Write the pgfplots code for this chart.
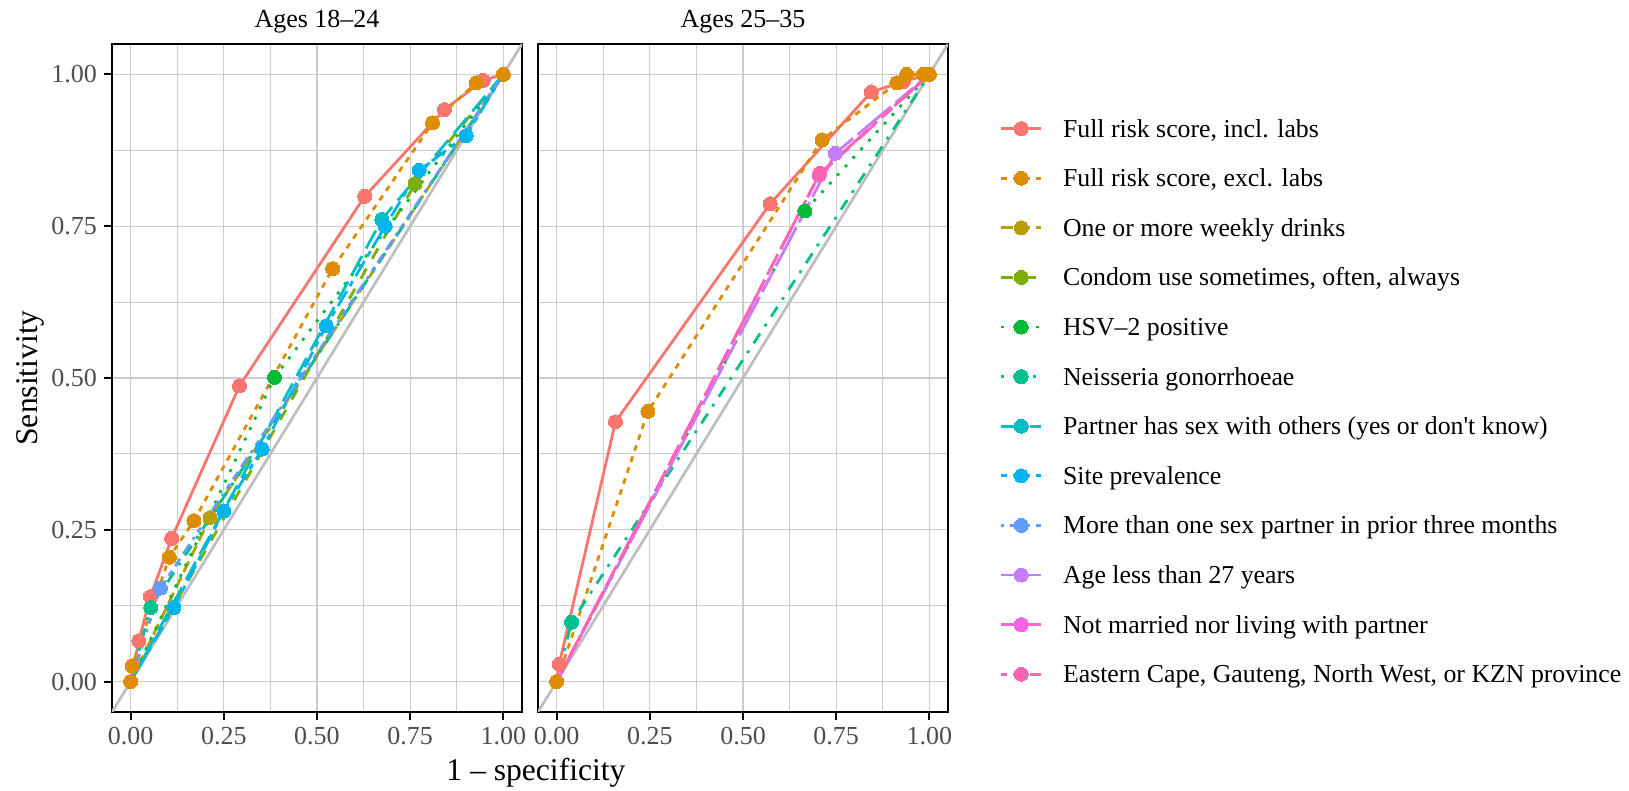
\documentclass[border=0pt]{standalone}
\usepackage{pgfplots}
\usepackage{pgfplotstable}
\pgfplotsset{compat=1.18}
\usepackage{fontspec}
\setmainfont{Liberation Serif}

\definecolor{c1}{HTML}{F8766D}
\definecolor{c2}{HTML}{DE8C00}
\definecolor{c3}{HTML}{B79F00}
\definecolor{c4}{HTML}{7CAE00}
\definecolor{c5}{HTML}{00BA38}
\definecolor{c6}{HTML}{00C08B}
\definecolor{c7}{HTML}{00BFC4}
\definecolor{c8}{HTML}{00B4F0}
\definecolor{c9}{HTML}{619CFF}
\definecolor{c10}{HTML}{C77CFF}
\definecolor{c11}{HTML}{F564E3}
\definecolor{c12}{HTML}{FF64B0}
\definecolor{gridc}{HTML}{CCCCCC}
\definecolor{tickc}{HTML}{4D4D4D}
\definecolor{diagc}{HTML}{BEBEBE}

% ---------- data: Ages 18-24 ----------
\pgfplotstableread{
x y
0 0
0.022 0.067
0.053 0.140
0.110 0.236
0.292 0.487
0.628 0.799
0.842 0.942
0.946 0.990
1 1
}\tAa
\pgfplotstableread{
x y
0 0
0.004 0.026
0.104 0.205
0.170 0.265
0.542 0.680
0.810 0.920
0.927 0.986
1 1
}\tAb
\pgfplotstableread{
x y
0 0
0.213 0.270
1 1
}\tAc
\pgfplotstableread{
x y
0 0
0.763 0.820
1 1
}\tAd
\pgfplotstableread{
x y
0 0
0.386 0.501
1 1
}\tAe
\pgfplotstableread{
x y
0 0
0.054 0.122
1 1
}\tAf
\pgfplotstableread{
x y
0 0
0.674 0.761
1 1
}\tAg
\pgfplotstableread{
x y
0 0
0.116 0.122
0.250 0.281
0.353 0.383
0.525 0.586
0.683 0.750
0.774 0.842
0.900 0.899
1 1
}\tAh
\pgfplotstableread{
x y
0 0
0.080 0.154
1 1
}\tAi
% ---------- data: Ages 25-35 ----------
\pgfplotstableread{
x y
0 0
0.007 0.029
0.158 0.428
0.573 0.787
0.844 0.971
0.930 0.988
1 1
}\tBa
\pgfplotstableread{
x y
0 0
0.245 0.445
0.712 0.892
0.913 0.986
0.939 1.000
0.984 1.000
1 1
}\tBb
\pgfplotstableread{
x y
0 0
0.666 0.775
1 1
}\tBe
\pgfplotstableread{
x y
0 0
0.040 0.098
1 1
}\tBf
\pgfplotstableread{
x y
0 0
0.748 0.870
1 1
}\tBj
\pgfplotstableread{
x y
0 0
0.704 0.834
1 1
}\tBk
\pgfplotstableread{
x y
0 0
0.706 0.837
1 1
}\tBl

\tikzset{
  base/.style={line width=1.4pt, mark=*, mark size=3.5pt, mark options={solid, line width=0pt}},
  s1/.style={base, color=c1, solid},
  s2/.style={base, color=c2, dash pattern=on 2.9pt off 2.9pt},
  s3/.style={base, color=c3, dash pattern=on 5.8pt off 2.9pt},
  s4/.style={base, color=c4, dash pattern=on 5.8pt off 5.8pt},
  s5/.style={base, color=c5, dash pattern=on 1.45pt off 4.35pt},
  s6/.style={base, color=c6, dash pattern=on 1.45pt off 4.35pt on 5.8pt off 4.35pt},
  s7/.style={base, color=c7, dash pattern=on 10.15pt off 4.35pt},
  s8/.style={base, color=c8, dash pattern=on 2.9pt off 2.9pt on 8.7pt off 2.9pt},
  s9/.style={base, color=c9, dash pattern=on 1.45pt off 2.9pt on 2.9pt off 2.9pt on 4.35pt off 2.9pt on 5.8pt off 2.9pt},
  s10/.style={base, color=c10, dash pattern=on 21.75pt off 2.9pt on 11.6pt off 2.9pt},
  s11/.style={base, color=c11, dash pattern=on 21.75pt off 5.8pt on 5.8pt off 5.8pt on 11.6pt off 5.8pt on 5.8pt off 5.8pt},
  s12/.style={base, color=c12, dash pattern=on 2.9pt off 2.9pt on 5.8pt off 2.9pt on 11.6pt off 2.9pt on 21.75pt off 2.9pt},
}

\newcommand{\rocline}[2]{\addplot[#1, no markers, forget plot] table[x=x,y=y] {#2};}
% all points (risk scores)
\newcommand{\rocmarks}[2]{\addplot[#1, only marks, forget plot] table[x=x,y=y] {#2};}
% interior points only (single predictors)
\newcommand{\rocmarksin}[2]{\addplot[#1, only marks, forget plot, restrict x to domain=0.0005:0.9995] table[x=x,y=y] {#2};}

\pgfplotsset{
  roc/.style={
    scale only axis, width=205pt, height=334pt,
    xmin=-0.05, xmax=1.05, ymin=-0.05, ymax=1.05,
    xtick={0,0.25,0.5,0.75,1}, ytick={0,0.25,0.5,0.75,1},
    minor xtick={0.125,0.375,0.625,0.875},
    minor ytick={0.125,0.375,0.625,0.875},
    grid=both,
    major grid style={color=gridc, line width=0.6pt},
    minor grid style={color=gridc, line width=0.5pt},
    axis line style={line width=1.25pt, black},
    tick align=outside, xtick pos=left, ytick pos=left,
    major tick length=4pt, minor tick length=0pt,
    tick style={black, line width=1.1pt},
    tick label style={font=\fontsize{13}{15}\selectfont, text=tickc},
    /pgf/number format/fixed,
    /pgf/number format/fixed zerofill,
    /pgf/number format/precision=2,
    /pgf/number format/assume math mode=true,
    title style={font=\fontsize{13}{15}\selectfont, at={(0.5,1)}, anchor=base, yshift=2pt},
    clip=true,
  }
}

\begin{document}
\begin{tikzpicture}
\useasboundingbox (0,0) rectangle (814.5pt,395.5pt);
\begin{axis}[roc, at={(56pt,39.5pt)}, anchor=south west,
  title={Ages 18--24},
  xlabel={1 -- specificity},
  xlabel style={at={(axis description cs:1.034,-0.1018)}, anchor=base, font=\fontsize{15.8}{18}\selectfont},
  ylabel={Sensitivity},
  ylabel style={at={(axis description cs:-0.2,0.5)}, anchor=center, font=\fontsize{15.8}{18}\selectfont},
]
\addplot[diagc, line width=1.35pt, forget plot] coordinates {(-0.05,-0.05) (1.05,1.05)};
\rocline{s1}{\tAa}
\rocline{s2}{\tAb}
\rocline{s3}{\tAc}
\rocline{s4}{\tAd}
\rocline{s5}{\tAe}
\rocline{s6}{\tAf}
\rocline{s7}{\tAg}
\rocline{s8}{\tAh}
\rocline{s9}{\tAi}
\rocmarks{s1}{\tAa}
\rocmarks{s2}{\tAb}
\rocmarksin{s3}{\tAc}
\rocmarksin{s4}{\tAd}
\rocmarksin{s5}{\tAe}
\rocmarksin{s6}{\tAf}
\rocmarksin{s7}{\tAg}
\rocmarksin{s8}{\tAh}
\rocmarksin{s9}{\tAi}
\end{axis}

\begin{axis}[roc, at={(269pt,39.5pt)}, anchor=south west,
  title={Ages 25--35},
  yticklabels={}, y tick style={draw=none},
  legend style={at={(1.1265,0.8868)}, anchor=north west, draw=none, fill=none,
    inner sep=0pt, outer sep=0pt, row sep=13.1pt,
    nodes={inner sep=0pt, anchor=base west, text height=8.5pt, text depth=3pt,
      font=\fontsize{12.9}{15}\selectfont}},
  legend image code/.code={
    \draw[mark repeat=2, mark phase=2, #1] plot coordinates {(0pt,4.2pt) (10pt,4.2pt) (20pt,4.2pt)};
    \path (0pt,0pt) (30.2pt,8pt);
  },
]
\addplot[diagc, line width=1.35pt, forget plot] coordinates {(-0.05,-0.05) (1.05,1.05)};
\rocline{s1}{\tBa}
\rocline{s2}{\tBb}
\rocline{s5}{\tBe}
\rocline{s6}{\tBf}
\rocline{s10}{\tBj}
\rocline{s11}{\tBk}
\rocline{s12}{\tBl}
\rocmarks{s1}{\tBa}
\rocmarks{s2}{\tBb}
\rocmarksin{s5}{\tBe}
\rocmarksin{s6}{\tBf}
\rocmarksin{s10}{\tBj}
\rocmarksin{s11}{\tBk}
\rocmarksin{s12}{\tBl}
\addlegendimage{s1}\addlegendentry{Full risk score, incl. labs}
\addlegendimage{s2}\addlegendentry{Full risk score, excl. labs}
\addlegendimage{s3}\addlegendentry{One or more weekly drinks}
\addlegendimage{s4}\addlegendentry{Condom use sometimes, often, always}
\addlegendimage{s5}\addlegendentry{HSV--2 positive}
\addlegendimage{s6}\addlegendentry{Neisseria gonorrhoeae}
\addlegendimage{s7}\addlegendentry{Partner has sex with others (yes or don\textquotesingle t know)}
\addlegendimage{s8}\addlegendentry{Site prevalence}
\addlegendimage{s9}\addlegendentry{More than one sex partner in prior three months}
\addlegendimage{s10}\addlegendentry{Age less than 27 years}
\addlegendimage{s11}\addlegendentry{Not married nor living with partner}
\addlegendimage{s12}\addlegendentry{Eastern Cape, Gauteng, North West, or KZN province}
\end{axis}
\end{tikzpicture}
\end{document}
